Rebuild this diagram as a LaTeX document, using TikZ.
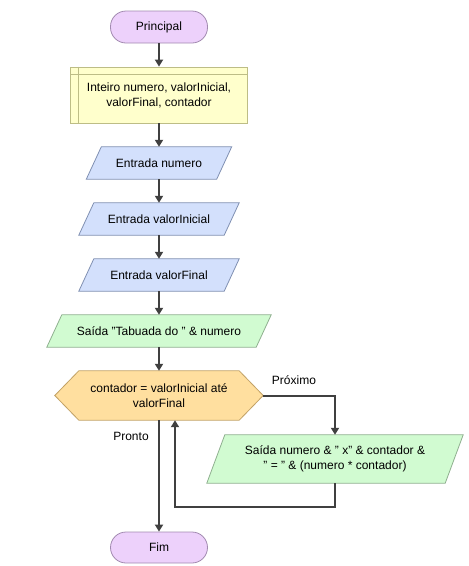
\documentclass[tikz,border=0pt]{standalone}
\usepackage{fontspec}
\setmainfont{Liberation Sans}
\usetikzlibrary{backgrounds,arrows.meta,calc}
\definecolor{termfill}{HTML}{EDD1FB}
\definecolor{termdraw}{HTML}{A28AB0}
\definecolor{declfill}{HTML}{FFFFCC}
\definecolor{decldraw}{HTML}{BDBD86}
\definecolor{infill}{HTML}{D3E0FC}
\definecolor{indraw}{HTML}{8090B2}
\definecolor{outfill}{HTML}{D1FBD1}
\definecolor{outdraw}{HTML}{8FB08F}
\definecolor{loopfill}{HTML}{FFDF9F}
\definecolor{loopdraw}{HTML}{C2A266}
\definecolor{linecol}{HTML}{404040}
\tikzset{
  every node/.style={font=\fontsize{12}{15}\selectfont, text=black, align=center, inner sep=0pt},
  term/.style={draw=termdraw, fill=termfill, rounded corners=15.5pt, minimum width=97pt, minimum height=32pt, line width=0.8pt},
  declbox/.style={draw=decldraw, fill=declfill, minimum width=177pt, minimum height=56pt, line width=0.8pt},
  iobox/.style={minimum height=32pt},
  inshape/.style={draw=indraw, fill=infill, line width=0.8pt, line join=miter},
  outshape/.style={draw=outdraw, fill=outfill, line width=0.8pt, line join=miter},
  loopshape/.style={draw=loopdraw, fill=loopfill, line width=0.8pt, line join=miter},
  conn/.style={draw=linecol, line width=2pt, -{Triangle[length=7pt,width=8pt]}},
  lbl/.style={font=\fontsize{12}{15}\selectfont}
}
\begin{document}
\begin{tikzpicture}[x=1pt,y=-1pt]
\useasboundingbox (0,0) rectangle (469,566);
% terminals
\node[term] (start) at (159,27) {Principal};
\node[term, minimum height=31pt] (fim) at (159,547.5) {Fim};
% declaration
\node[declbox] (decl) at (159,95) {Inteiro numero, valorInicial,\\valorFinal, contador};
\draw[draw=decldraw, line width=0.8pt] ([xshift=8pt]decl.north west) -- ([xshift=8pt]decl.south west);
\draw[draw=decldraw, line width=0.8pt] ([yshift=-8pt]decl.north west) -- ([yshift=-8pt]decl.north east);
% inputs
\node[iobox, minimum width=130pt] (e1) at (159,163) {Entrada numero};
\node[iobox, minimum width=145pt] (e2) at (159,219) {Entrada valorInicial};
\node[iobox, minimum width=145pt] (e3) at (159,275) {Entrada valorFinal};
\node[iobox, minimum width=209pt] (s1) at (159,331) {Saída "Tabuada do " \& numero};
\node[minimum width=208pt, minimum height=49pt] (hex) at (159,395.5) {contador = valorInicial até\\valorFinal};
\node[minimum width=238pt, minimum height=48pt] (s2) at (335,459) {Saída numero \& " x" \& contador \&\\" = " \& (numero * contador)};
\begin{scope}[on background layer]
\foreach \n in {e1,e2,e3}{
  \draw[inshape] ([xshift=7.5pt]\n.north west) -- ([xshift=7.5pt]\n.north east) -- ([xshift=-7.5pt]\n.south east) -- ([xshift=-7.5pt]\n.south west) -- cycle;
}
\draw[outshape] ([xshift=7.5pt]s1.north west) -- ([xshift=7.5pt]s1.north east) -- ([xshift=-7.5pt]s1.south east) -- ([xshift=-7.5pt]s1.south west) -- cycle;
\draw[outshape] ([xshift=9pt]s2.north west) -- ([xshift=9pt]s2.north east) -- ([xshift=-9pt]s2.south east) -- ([xshift=-9pt]s2.south west) -- cycle;
\draw[loopshape] (hex.west) -- ([xshift=24pt]hex.north west) -- ([xshift=-24pt]hex.north east) -- (hex.east) -- ([xshift=-24pt]hex.south east) -- ([xshift=24pt]hex.south west) -- cycle;
\end{scope}
% connectors
\draw[conn] (start) -- (decl);
\draw[conn] (decl) -- (e1);
\draw[conn] (e1) -- (e2);
\draw[conn] (e2) -- (e3);
\draw[conn] (e3) -- (s1);
\draw[conn] (s1) -- (hex);
\draw[conn] (hex.south) -- (fim.north);
\draw[conn] (hex.east) -| (s2.north);
\coordinate (back) at ([xshift=16pt]hex.south);
\draw[conn] (s2.south) -- ++(0,24) -| (back);
% labels
\node[lbl] (pronto) at (131,436) {Pronto};
\node[lbl] (proximo) at (294,380) {Próximo};
\end{tikzpicture}
\end{document}
